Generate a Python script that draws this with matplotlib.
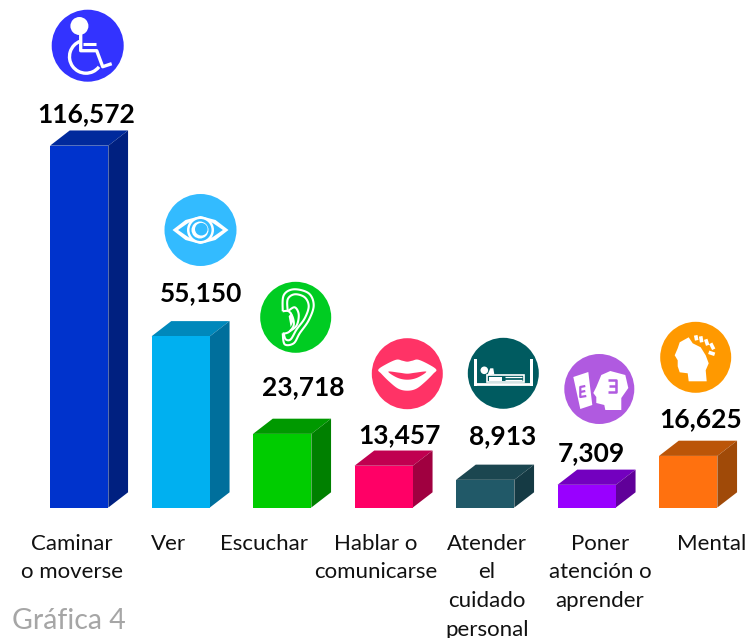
import numpy as np
import matplotlib
matplotlib.use("Agg")
import matplotlib.pyplot as plt
from matplotlib.patches import Circle, Polygon, Arc, Rectangle

plt.rcParams['font.family'] = ['Lato', 'DejaVu Sans']

categories = ["Caminar\no moverse", "Ver", "Escuchar", "Hablar o\ncomunicarse",
              "Atender\nel\ncuidado\npersonal", "Poner\natención o\naprender", "Mental"]
values = [116572, 55150, 23718, 13457, 8913, 7309, 16625]
front_colors = ["#0033CC", "#00B0F0", "#00CC00", "#FF0066", "#215968", "#9900FF", "#FF710F"]
top_colors = ["#002A9C", "#0088BB", "#009900", "#C00050", "#1B4650", "#7300BF", "#BB5508"]
side_colors = ["#002080", "#006F9C", "#008000", "#A00040", "#153A44", "#600099", "#A04A08"]
icon_colors = ["#3333FF", "#33BBFF", "#00CC22", "#FF3366", "#005B60", "#B05AE0", "#FF9900"]

W, H = 749, 638
BASE_PX, PX_PER_UNIT = 507.5, 0.003104
X0_PX, STEP_PX, BAR_PX = 79.2, 101.5, 58.3
DX_PX, DY_PX = 19.7, 15.2

fig = plt.figure(figsize=(W / 100, H / 100), dpi=100, facecolor='white')
ax = fig.add_axes([0, 0, 1, 1])
ax.set_xlim(-X0_PX / STEP_PX, (W - X0_PX) / STEP_PX)
ax.set_ylim(-(H - BASE_PX) / PX_PER_UNIT, BASE_PX / PX_PER_UNIT)
ax.axis('off')

ov = fig.add_axes([0, 0, 1, 1], facecolor='none')
ov.set_xlim(0, W)
ov.set_ylim(H, 0)
ov.axis('off')

xs = np.arange(len(values))
bw = BAR_PX / STEP_PX
dx = DX_PX / STEP_PX
dy = DY_PX / PX_PER_UNIT
ax.bar(xs, values, width=bw, color=front_colors, linewidth=0, zorder=3)
for x, v, tc, sc in zip(xs, values, top_colors, side_colors):
    l, r = x - bw / 2, x + bw / 2
    ax.add_patch(Polygon([(l, v), (r, v), (r + dx, v + dy), (l + dx, v + dy)], closed=True, fc=tc, ec='none', zorder=2))
    ax.add_patch(Polygon([(r, 0), (r + dx, dy), (r + dx, v + dy), (r, v)], closed=True, fc=sc, ec='none', zorder=2))

value_pos = [(86, 114), (201, 293), (303, 387), (399, 435), (503, 436), (591, 453), (701, 419)]
for v, (px, py) in zip(values, value_pos):
    ov.text(px, py, f"{v:,}", ha='center', va='center', fontsize=19, fontweight='bold', color='black')

label_x = [72, 168.5, 264, 376, 487, 600, 712]
for cat, px in zip(categories, label_x):
    for i, line in enumerate(cat.split("\n")):
        ov.text(px, 550 + 28.5 * i, line, ha='center', va='baseline', fontsize=16, color='#111111')

ov.text(12, 629, "Gráfica 4", ha='left', va='baseline', fontsize=20.5, color='#A6A6A6')

centers = [(87.7, 45.7), (200.5, 230), (295.7, 317.3), (407.3, 373.7), (503.3, 373.3), (599.3, 389), (695.7, 357.3)]
radii = [36, 36, 35.5, 35.5, 35.5, 35, 35.5]
for (cx, cy), r, col in zip(centers, radii, icon_colors):
    ov.add_patch(Circle((cx, cy), r, fc=col, ec='none', zorder=2))


def off(c, pts):
    return [(c[0] + a, c[1] + b) for a, b in pts]


def catmull(pts, closed=False, n=12):
    p = np.array(pts, float)
    if closed:
        p = np.vstack([p[-1], p, p[0], p[1]])
    else:
        p = np.vstack([p[0], p, p[-1]])
    out = []
    for i in range(1, len(p) - 2):
        for t in np.linspace(0, 1, n, endpoint=False):
            a, b, c, d = p[i - 1], p[i], p[i + 1], p[i + 2]
            out.append(0.5 * (2 * b + (c - a) * t + (2 * a - 5 * b + 4 * c - d) * t * t + (3 * b - a - 3 * c + d) * t ** 3))
    out.append(p[-2])
    return [tuple(q) for q in out]


def stroke(c, pts, lw=2.2, color='white', z=3, curved=False, cap='butt'):
    p = off(c, catmull(pts) if curved else pts)
    ov.plot([q[0] for q in p], [q[1] for q in p], color=color, lw=lw, solid_capstyle=cap,
            solid_joinstyle='round', zorder=z)


def fill(c, pts, color='white', z=3, curved=False):
    p = catmull(pts, closed=True) if curved else pts
    ov.add_patch(Polygon(off(c, p), closed=True, fc=color, ec='none', zorder=z))


# wheelchair
c = centers[0]
ov.add_patch(Circle((c[0] - 8.3, c[1] - 19.7), 9, fc='white', ec='none', zorder=3))
stroke(c, [(-7, -12), (-7, 5), (9, 5), (15, 21), (24, 18)], lw=2.4)
stroke(c, [(-5, -2), (8, -2)], lw=2.2)
ov.add_patch(Arc((c[0] - 1.7, c[1] + 11), 33, 33, theta1=38, theta2=250, ec='white', lw=2.4, zorder=3))

# eye
c = centers[1]
almond = [(-28, 0), (-15, -10), (0, -14), (15, -10), (28, 0), (15, 10), (0, 14), (-15, 10)]
fill(c, almond, curved=False)
fill(c, [(x * 0.8, y * 0.72) for x, y in almond], color=icon_colors[1], z=4)
ov.add_patch(Circle(c, 13.5, fc='white', ec='none', zorder=5))
ov.add_patch(Circle(c, 11, fc=icon_colors[1], ec='none', zorder=6))
ov.add_patch(Circle((c[0] - 0.5, c[1]), 8.5, fc='white', ec='none', zorder=7))
ov.add_patch(Circle((c[0] + 0.8, c[1] - 0.8), 6.3, fc=icon_colors[1], ec='none', zorder=8))

# ear
c = centers[2]
stroke(c, [(-13, -6), (-12, -22), (-2, -28), (13, -24), (18, -12), (13, 3), (4, 16), (-2, 26), (-11, 27), (-13, 16)],
       lw=1.5, curved=True)
stroke(c, [(-8, -6), (-8, -18), (-1, -23), (9, -20), (13, -11), (9, 1), (1, 12), (-5, 22), (-10, 22), (-12, 16)],
       lw=1.5, curved=True)
stroke(c, [(-13, -6), (-7, -6), (-3, 0), (-2, 8), (-6, 14), (-10, 16), (-13, 16)], lw=1.5, curved=True)
stroke(c, [(-8, -6), (-1, -10), (3, -3), (1, 8), (-6, 14)], lw=1.5, curved=True)
fill(c, [(-7, -1), (-4, -5), (-2, 3), (-5, 10)])

# lips
c = centers[3]
fill(c, [(-29, -4), (-22, -9), (-11, -14), (-5, -13), (0, -12), (5, -13), (11, -14), (22, -9), (29, -4), (26, 0),
         (18, 8), (9, 15), (0, 17), (-9, 15), (-18, 8), (-26, 0)], curved=True)
fill(c, [(-19, -2), (-8, -1), (0, 0), (8, -1), (19, -2), (10, 4), (0, 6), (-10, 4)], color=icon_colors[3], z=4, curved=True)

# bed
c = centers[4]
for a in (-29.5, 26.5):
    ov.add_patch(Rectangle((c[0] + a, c[1] - 14), 3.6, 27, fc='white', ec='none', zorder=3))
stroke(c, [(-27, 10.5), (27, 10.5)], lw=2.0)
ov.add_patch(Circle((c[0] - 19, c[1] - 3), 3.8, fc='white', ec='none', zorder=3))
fill(c, [(-13, -5), (-10, -5), (-9, 1), (-16, 2)])
ov.add_patch(Rectangle((c[0] - 16, c[1] + 2), 37, 6.5, fc='none', ec='white', lw=1.2, zorder=4))
ov.add_patch(Rectangle((c[0] - 14, c[1] + 4), 13, 3.5, fc='white', ec='none', zorder=4))
stroke(c, [(2, 3.8), (19, 3.8)], lw=0.9, z=4)
stroke(c, [(2, 6.2), (19, 6.2)], lw=0.9, z=4)

# attention
c = centers[5]
fill(c, [(11, -18), (26, -14), (29, -1), (22, 9), (22, 21), (6, 21), (5, 16), (-3, 14), (-3, 8), (-6, 4), (-3, -2), (2, -14)])
stroke(c, [(9, -9), (17, -9), (17, 3), (9, 3)], lw=1.8, color=icon_colors[5], z=4)
stroke(c, [(10, -3), (17, -3)], lw=1.8, color=icon_colors[5], z=4)
fill(c, [(-26, -12), (-11, -17), (-7, 16), (-19, 20)])
stroke(c, [(-14, -3), (-19, -2), (-19, 8), (-13, 7)], lw=1.6, color=icon_colors[5], z=4)
stroke(c, [(-19, 3), (-14, 2)], lw=1.6, color=icon_colors[5], z=4)

# mental
c = centers[6]
fill(c, [(-16, -15), (-7, -20), (-3, -14), (5, -10), (10, -2), (13, 6), (10, 13), (11, 24), (-7, 24), (-8, 16),
         (-16, 15), (-18, 9), (-18, 3), (-21, -2), (-18, -9)])
for a, b in [((0, -22), (1, -17)), ((5, -21), (6, -15)), ((10, -18), (12, -12)), ((15, -14), (18, -8)), ((13, -5), (19, -3))]:
    stroke(c, [a, b], lw=2.6, color='white', z=4)

fig.savefig("out.png", dpi=100, facecolor='white')
